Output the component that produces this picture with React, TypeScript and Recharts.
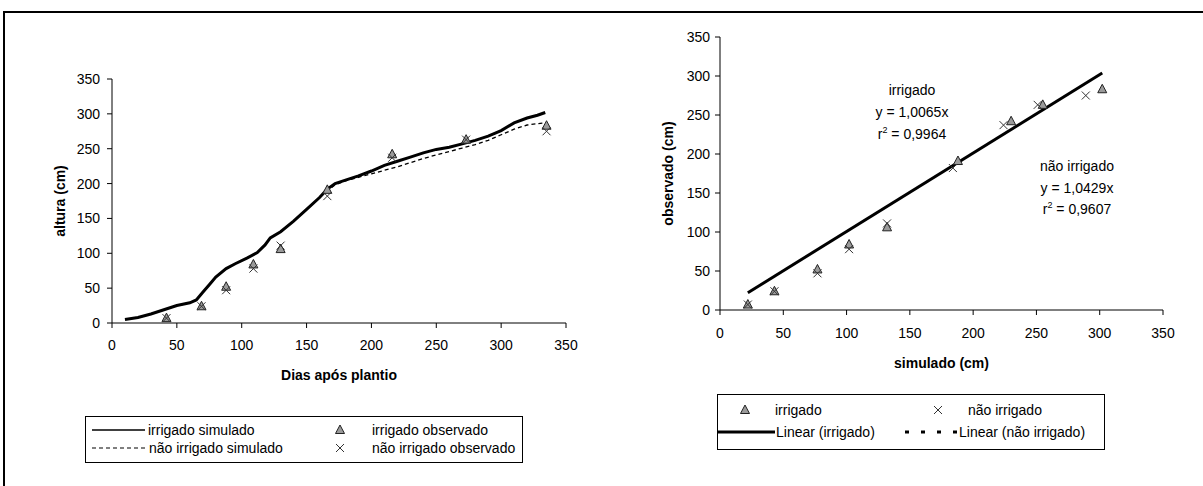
import { ComposedChart, Legend, Line, Scatter, XAxis, YAxis } from "recharts";

const FONT = "'Liberation Sans', Arial, sans-serif";

// simulated plant height (cm) by days after planting
const simDays = [
  10, 20, 30, 40, 50, 60, 65, 70, 75, 80, 88, 95, 104, 112, 118, 122, 130, 140, 150, 160, 166, 172,
  180, 190, 200, 210, 220, 230, 240, 250, 260, 270, 280, 290, 300, 310, 320, 328, 334
];
const simIrrigado = [
  5, 8, 13, 19, 25, 29, 33, 44, 55, 66, 78, 85, 93, 101, 112, 122, 131, 146, 163, 180, 192, 200,
  205, 211, 218, 226, 232, 238, 244, 249, 252, 257, 262, 268, 276, 287, 294, 298, 302
];
const simNaoIrrigado = [
  5, 8, 13, 19, 25, 29, 33, 44, 55, 66, 78, 85, 93, 101, 112, 122, 131, 146, 163, 180, 190, 198,
  204, 209, 214, 219, 224, 230, 236, 241, 246, 251, 256, 262, 270, 278, 284, 286, 287
];

// field measurements
const obsDays = [42, 69, 88, 109, 130, 166, 216, 273, 335];
const obsIrrigado = [7, 24, 52, 84, 106, 191, 242, 263, 283];
const obsNaoIrrigado = [7, 24, 47, 78, 111, 182, 237, 263, 275];

// model output on the measurement dates
const simObsIrrigado = [22, 43, 77, 102, 132, 188, 230, 255, 302];
const simObsNaoIrrigado = [22, 43, 77, 102, 132, 184, 224, 251, 289];

// linear fits through the origin
const slopeIrrigado = 1.0065;
const r2Irrigado = 0.9964;
const slopeNaoIrrigado = 1.0429;
const r2NaoIrrigado = 0.9607;

const ticks = [0, 50, 100, 150, 200, 250, 300, 350];

const simRows = simDays.map((day, i) => ({ day, irr: simIrrigado[i], nao: simNaoIrrigado[i] }));
const obsIrrRows = obsDays.map((day, i) => ({ day, h: obsIrrigado[i] }));
const obsNaoRows = obsDays.map((day, i) => ({ day, h: obsNaoIrrigado[i] }));

const scatterIrr = simObsIrrigado.map((sim, i) => ({ sim, obs: obsIrrigado[i] }));
const scatterNao = simObsNaoIrrigado.map((sim, i) => ({ sim, obs: obsNaoIrrigado[i] }));
const fitRows = [Math.min(...simObsIrrigado), Math.max(...simObsIrrigado)].map((sim) => ({
  sim,
  fit: slopeIrrigado * sim
}));

const fmt = (v: number) => v.toFixed(4).replace(".", ",");

const tickStyle = { fontSize: 14, fill: "#000", fontFamily: FONT };
const titleStyle = { fontSize: 14, fontWeight: "bold", fill: "#000", fontFamily: FONT };

function Triangle(props: any) {
  const { cx, cy } = props;
  if (cx == null || cy == null) return null;
  return (
    <path
      d={`M${cx},${cy - 5} L${cx + 4.5},${cy + 3.5} L${cx - 4.5},${cy + 3.5} Z`}
      fill="#9a9a9a"
      stroke="#222"
      strokeWidth={1}
    />
  );
}

function Cross(props: any) {
  const { cx, cy } = props;
  if (cx == null || cy == null) return null;
  return (
    <path
      d={`M${cx - 4},${cy - 4} L${cx + 4},${cy + 4} M${cx + 4},${cy - 4} L${cx - 4},${cy + 4}`}
      stroke="#333"
      strokeWidth={1}
      fill="none"
    />
  );
}

const legendText = { position: "absolute" as const, whiteSpace: "nowrap" as const, lineHeight: "16px" };

function LegendAltura() {
  return (
    <div
      style={{
        position: "relative",
        width: 438,
        height: 47,
        boxSizing: "border-box",
        border: "1px solid #000",
        background: "#fff",
        fontFamily: FONT,
        fontSize: 14,
        color: "#000"
      }}
    >
      <svg width={438} height={47} style={{ position: "absolute", left: -1, top: -1 }}>
        <line x1={7} x2={60} y1={14} y2={14} stroke="#000" strokeWidth={1.5} />
        <line x1={7} x2={62} y1={32} y2={32} stroke="#000" strokeWidth={1.2} strokeDasharray="4 3" />
        <Triangle cx={255} cy={14} />
        <Cross cx={255} cy={32} />
      </svg>
      <span style={{ ...legendText, left: 62, top: 5 }}>irrigado simulado</span>
      <span style={{ ...legendText, left: 286, top: 5 }}>irrigado observado</span>
      <span style={{ ...legendText, left: 63, top: 23 }}>não irrigado simulado</span>
      <span style={{ ...legendText, left: 286, top: 23 }}>não irrigado observado</span>
    </div>
  );
}

function LegendAjuste() {
  return (
    <div
      style={{
        position: "relative",
        width: 388,
        height: 56,
        boxSizing: "border-box",
        border: "1px solid #000",
        background: "#fff",
        fontFamily: FONT,
        fontSize: 14,
        color: "#000"
      }}
    >
      <svg width={388} height={56} style={{ position: "absolute", left: -1, top: -1 }}>
        <Triangle cx={28} cy={16} />
        <Cross cx={221} cy={16} />
        <line x1={1} x2={58} y1={38} y2={38} stroke="#000" strokeWidth={3} />
        <line x1={188} x2={243} y1={38} y2={38} stroke="#000" strokeWidth={3} strokeDasharray="4 12" />
      </svg>
      <span style={{ ...legendText, left: 57, top: 7 }}>irrigado</span>
      <span style={{ ...legendText, left: 250, top: 7 }}>não irrigado</span>
      <span style={{ ...legendText, left: 58, top: 29 }}>Linear (irrigado)</span>
      <span style={{ ...legendText, left: 241, top: 29 }}>Linear (não irrigado)</span>
    </div>
  );
}

function Equation({ x, y, title, slope, r2, gap }: { x: number; y: number; title: string; slope: number; r2: number; gap: number }) {
  return (
    <div
      style={{
        position: "absolute",
        left: x - 70,
        top: y - gap / 2,
        width: 140,
        textAlign: "center",
        fontFamily: FONT,
        fontSize: 14,
        lineHeight: `${gap}px`,
        color: "#000"
      }}
    >
      <div>{title}</div>
      <div>y = {fmt(slope)}x</div>
      <div>
        r<span style={{ fontSize: 9, position: "relative", top: -6 }}>2</span> = {fmt(r2)}
      </div>
    </div>
  );
}

export default function App() {
  return (
    <div
      style={{
        position: "absolute",
        left: 0,
        top: 0,
        width: 1203,
        height: 486,
        background: "#fff",
        overflow: "hidden"
      }}
    >
      <div
        style={{
          position: "absolute",
          left: 3,
          top: 11,
          width: 1300,
          height: 600,
          borderTop: "2px solid #000",
          borderLeft: "2px solid #000"
        }}
      />

      <div style={{ position: "absolute", left: 0, top: 0 }}>
        <ComposedChart
          width={600}
          height={486}
          data={simRows}
          margin={{ top: 79, right: 34, bottom: 59, left: 8 }}
          style={{ fontFamily: FONT }}
        >
          <XAxis
            type="number"
            dataKey="day"
            domain={[0, 350]}
            ticks={ticks}
            interval={0}
            height={104}
            stroke="#000"
            tick={tickStyle}
            tickSize={5}
            tickMargin={12}
            label={{ value: "Dias após plantio", position: "center", ...titleStyle }}
          />
          <YAxis
            type="number"
            domain={[0, 350]}
            ticks={ticks}
            interval={0}
            width={104}
            stroke="#000"
            tick={tickStyle}
            tickSize={5}
            tickMargin={7}
            label={{ value: "altura (cm)", angle: -90, position: "center", ...titleStyle }}
          />
          <Line
            dataKey="nao"
            stroke="#000"
            strokeWidth={1.3}
            strokeDasharray="4 3"
            dot={false}
            isAnimationActive={false}
          />
          <Line dataKey="irr" stroke="#000" strokeWidth={3} dot={false} isAnimationActive={false} />
          <Scatter data={obsIrrRows} dataKey="h" shape={<Triangle />} isAnimationActive={false} />
          <Scatter data={obsNaoRows} dataKey="h" shape={<Cross />} isAnimationActive={false} />
          <Legend
            layout="horizontal"
            verticalAlign="middle"
            align="center"
            content={() => <LegendAltura />}
            wrapperStyle={{ left: 85, top: 416, width: 438, height: 47 }}
          />
        </ComposedChart>
      </div>

      <div style={{ position: "absolute", left: 600, top: 0 }}>
        <ComposedChart
          width={603}
          height={486}
          data={fitRows}
          margin={{ top: 37, right: 40, bottom: 70, left: 16 }}
          style={{ fontFamily: FONT }}
        >
          <XAxis
            type="number"
            dataKey="sim"
            domain={[0, 350]}
            ticks={ticks}
            interval={0}
            height={106}
            stroke="#000"
            tick={tickStyle}
            tickSize={5}
            tickMargin={13}
            label={{ value: "simulado (cm)", position: "center", ...titleStyle }}
          />
          <YAxis
            type="number"
            domain={[0, 350]}
            ticks={ticks}
            interval={0}
            width={104}
            stroke="#000"
            tick={tickStyle}
            tickSize={5}
            tickMargin={5}
            label={{ value: "observado (cm)", angle: -90, position: "center", ...titleStyle }}
          />
          <Line dataKey="fit" stroke="#000" strokeWidth={3} dot={false} isAnimationActive={false} />
          <Scatter data={scatterIrr} dataKey="obs" shape={<Triangle />} isAnimationActive={false} />
          <Scatter data={scatterNao} dataKey="obs" shape={<Cross />} isAnimationActive={false} />
          <Legend
            layout="horizontal"
            verticalAlign="middle"
            align="center"
            content={() => <LegendAjuste />}
            wrapperStyle={{ left: 117, top: 394, width: 388, height: 56 }}
          />
        </ComposedChart>
      </div>

      <Equation x={912} y={90} gap={22} title="irrigado" slope={slopeIrrigado} r2={r2Irrigado} />
      <Equation x={1077} y={167} gap={21.5} title="não irrigado" slope={slopeNaoIrrigado} r2={r2NaoIrrigado} />
    </div>
  );
}
